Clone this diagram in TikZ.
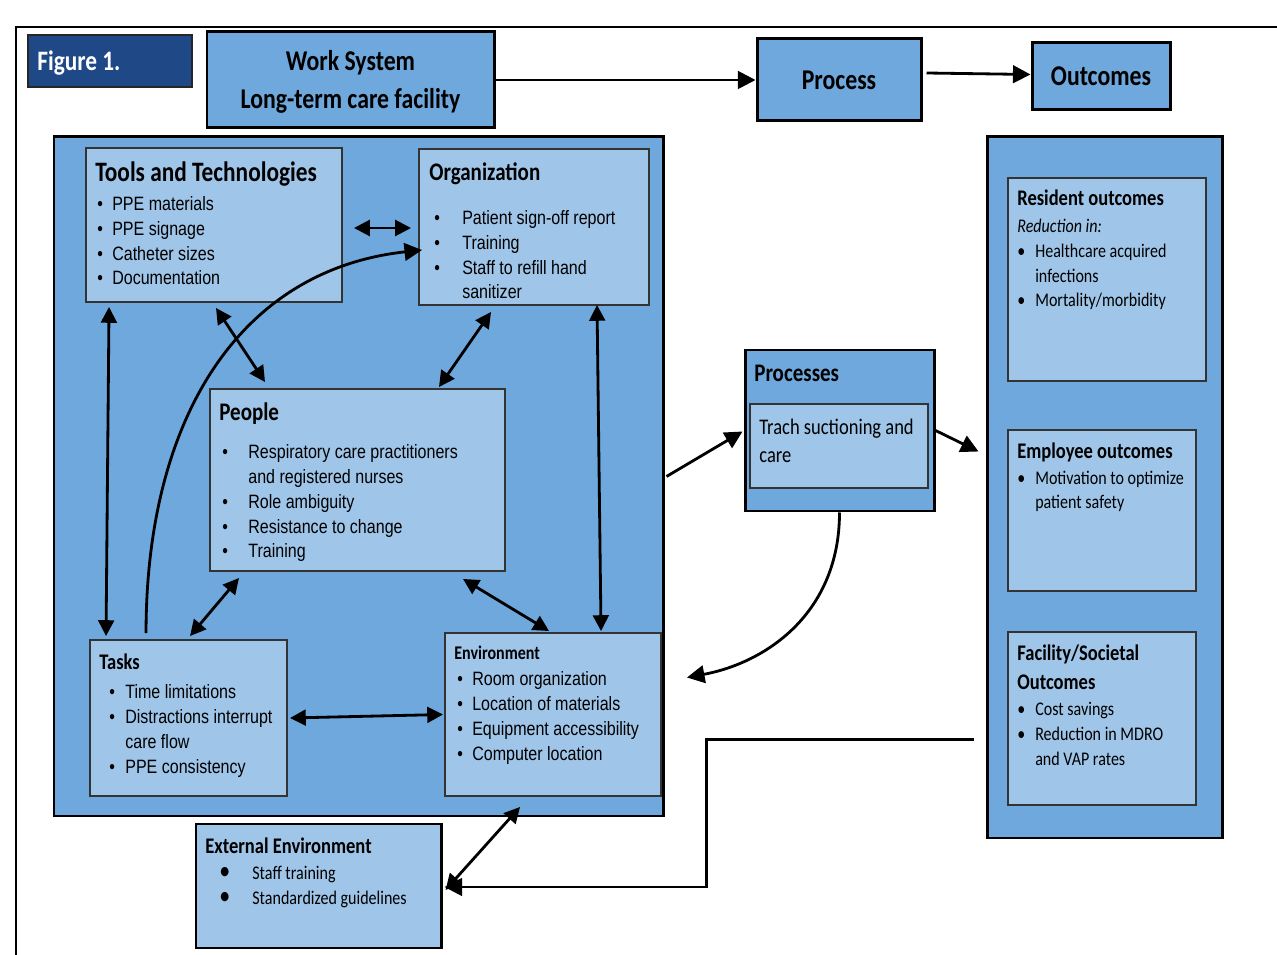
\documentclass[tikz,border=0pt]{standalone}
\usepackage{fontspec}
\setmainfont{Carlito}[FakeStretch=0.83]
\newfontfamily\arialn{Liberation Sans}[FakeStretch=0.83]
\usetikzlibrary{positioning,arrows.meta,calc,fit}
\definecolor{figblue}{RGB}{31,72,135}
\definecolor{midblue}{RGB}{111,168,220}
\definecolor{lightblue}{RGB}{159,197,232}
\newlength{\bulw}
\newcommand{\itm}[1]{\makebox[\bulw][l]{\textbullet}#1}
\newcommand{\bigitm}[1]{\makebox[\bulw][l]{\fontsize{15}{15}\selectfont\textbullet}#1}
\newcommand{\cont}[1]{\hspace*{\bulw}#1}
\tikzset{
  outer/.style={draw=black, line width=1.7pt, fill=midblue, inner sep=0pt},
  inner/.style={draw=black!80, line width=1.1pt, fill=lightblue, inner sep=0pt},
  toptxt/.style={font=\bfseries\fontsize{16.3}{21.6}\selectfont, align=center, inner sep=0pt},
  hd/.style={anchor=base west, inner sep=0pt, font=\bfseries\fontsize{14.4}{17}\selectfont},
  hdbig/.style={hd, font=\bfseries\fontsize{16}{19}\selectfont},
  hdsm/.style={hd, font=\bfseries\fontsize{12.7}{16.5}\selectfont, align=left},
  bw/.code={\global\bulw=#1},
  lst/.style={anchor=base west, inner sep=0pt, align=left, font=\arialn\fontsize{11}{14.22}\selectfont},
  clst/.style={lst, font=\fontsize{11}{14.22}\selectfont},
  dbl/.style={{Triangle[length=9pt,width=9pt]}-{Triangle[length=9pt,width=9pt]}, line width=1.6pt},
  sgl/.style={-{Triangle[length=10pt,width=10pt]}, line width=1.6pt}
}
\begin{document}
\begin{tikzpicture}[x=0.02cm, y=-0.02cm]
\useasboundingbox (0,0) rectangle (1277,955);
\draw[line width=1.3pt] (16,955) -- (16,27) -- (1277,27);

% header row
\node[fit={(28,35) (192,87)}, inner sep=0pt, draw=black!85, line width=1.2pt, fill=figblue] (fig) {};
\node[hdbig, text=white] (figT) at (37,71) {Figure 1.};
\node[outer, fit={(207,32) (494,128)}] (ws) {};
\node[toptxt] (wsT) at ($(ws)+(0,2)$) {Work System\\Long-term care facility};
\node[outer, fit={(757,39) (921,121)}] (proc) {};
\node[toptxt] (procT) at (proc) {Process};
\node[outer, fit={(1032,43) (1170,110)}] (outc) {};
\node[toptxt] (outcT) at (outc) {Outcomes};

% work system components
\node[outer, fit={(54,137) (663,816)}] (sys) {};
\node[inner, fit={(86,148) (342,302)}] (tools) {};
\node[hdbig] (toolsT) at (95,182) {Tools and Technologies};
\node[lst, bw=8.5pt] (toolsL) at (97,285) {\itm{PPE materials}\\ \itm{PPE signage}\\ \itm{Catheter sizes}\\ \itm{Documentation}};
\node[inner, fit={(419,149) (649,305)}] (org) {};
\node[hd] (orgT) at (429,181) {Organization};
\node[lst, bw=15.9pt] (orgL) at (434,299) {\itm{Patient sign-off report}\\ \itm{Training}\\ \itm{Staff to refill hand}\\ \cont{sanitizer}};
\node[inner, fit={(210,389) (505,571)}] (people) {};
\node[hd] (peopleT) at (219,421) {People};
\node[lst, bw=14.8pt] (peopleL) at (222,558) {\itm{Respiratory care practitioners}\\ \cont{and registered nurses}\\ \itm{Role ambiguity}\\ \itm{Resistance to change}\\ \itm{Training}};
\node[inner, fit={(90,640) (287,796)}] (tasks) {};
\node[hdsm] (tasksT) at (99,669) {Tasks};
\node[lst, bw=9.1pt] (tasksL) at (109,773) {\itm{Time limitations}\\ \itm{Distractions interrupt}\\ \cont{care flow}\\ \itm{PPE consistency}};
\node[inner, fit={(445,633) (661,796)}] (env) {};
\node[hd, font=\bfseries\fontsize{11}{14}\selectfont] (envT) at (454,659) {Environment};
\node[lst, bw=8.5pt] (envL) at (457,760) {\itm{Room organization}\\ \itm{Location of materials}\\ \itm{Equipment accessibility}\\ \itm{Computer location}};
\node[inner, fit={(196,824) (441,948)}, draw=black, line width=1.7pt] (ext) {};
\node[hdsm] (extT) at (205,853) {External Environment};
\node[clst, bw=18.8pt] (extL) at (219,904) {\bigitm{Staff training}\\ \bigitm{Standardized guidelines}};

% processes
\node[outer, fit={(745,350) (934,511)}] (procs) {};
\node[hd] (procsT) at (754,382) {Processes};
\node[inner, fit={(750,404) (928,488)}] (trach) {};
\node[clst, font=\fontsize{12.7}{16.5}\selectfont] (trachL) at (759,463) {Trach suctioning and\\care};

% outcomes
\node[outer, fit={(987,137) (1222,838)}] (outs) {};
\node[inner, fit={(1008,178) (1206,381)}] (res) {};
\node[hdsm] (resT) at (1017,206) {Resident outcomes};
\node[clst, bw=10.2pt] (resL) at (1017,307) {\textit{Reduction in:}\\ \itm{Healthcare acquired}\\ \cont{infections}\\ \itm{Mortality/morbidity}};
\node[inner, fit={(1008,430) (1196,591)}] (emp) {};
\node[hdsm] (empT) at (1017,459) {Employee outcomes};
\node[clst, bw=10.2pt] (empL) at (1017,509) {\itm{Motivation to optimize}\\ \cont{patient safety}};
\node[inner, fit={(1008,632) (1196,805)}] (fac) {};
\node[hdsm] (facT) at (1017,689) {Facility/Societal\\Outcomes};
\node[clst, bw=10.2pt] (facL) at (1017,765) {\itm{Cost savings}\\ \itm{Reduction in MDRO}\\ \cont{and VAP rates}};

% connectors
\draw[sgl] (ws) -- (proc);
\draw[sgl] ($(proc.east)+(4,-7)$) -- ($(outc.west)+(0,-2)$);
\draw[dbl] ($(tools.east)+(11,3)$) -- ($(org.west)+(-7,1)$);
\draw[dbl] ($(tools.south)+(2,5)$) -- ($(people.north west)+(56,-6)$);
\draw[dbl] ($(org.south west)+(73,6)$) -- ($(people.north east)+(-67,-1)$);
\draw[dbl] ($(tools.south west)+(24,4)$) -- ($(tasks.north west)+(17,-3)$);
\draw[dbl] ($(org.south west)+(179,-1)$) -- ($(env.north west)+(157,-1)$);
\draw[sgl] ($(tasks.north west)+(57,-6)$) .. controls +(0,-214) and +(-183,20) .. ($(org.west)+(4,23)$);
\draw[dbl] ($(people.south west)+(30,6)$) -- ($(tasks.north west)+(101,-3)$);
\draw[dbl] ($(people.south east)+(-43,7)$) -- ($(env.north west)+(105,-1)$);
\draw[dbl] ($(tasks.east)+(2,0)$) -- ($(env.west)+(-1,0)$);
\draw[dbl] ($(env.south west)+(76,10)$) -- ($(ext.east)+(3,4)$);
\draw[sgl] ($(sys.east)+(2,0)$) -- ($(procs.west)+(-1,1)$);
\draw[sgl] (procs.east) -- ($(outs.west)+(-7,-36)$);
\draw[sgl] (procs.south) .. controls +(0,100) and +(80,-15) .. ($(env.east)+(25,-37)$);
\draw[sgl] ($(outs.west)+(-12,252)$) -- ++(-267,0) |- ($(ext.east)+(2,1)$);
\end{tikzpicture}
\end{document}
